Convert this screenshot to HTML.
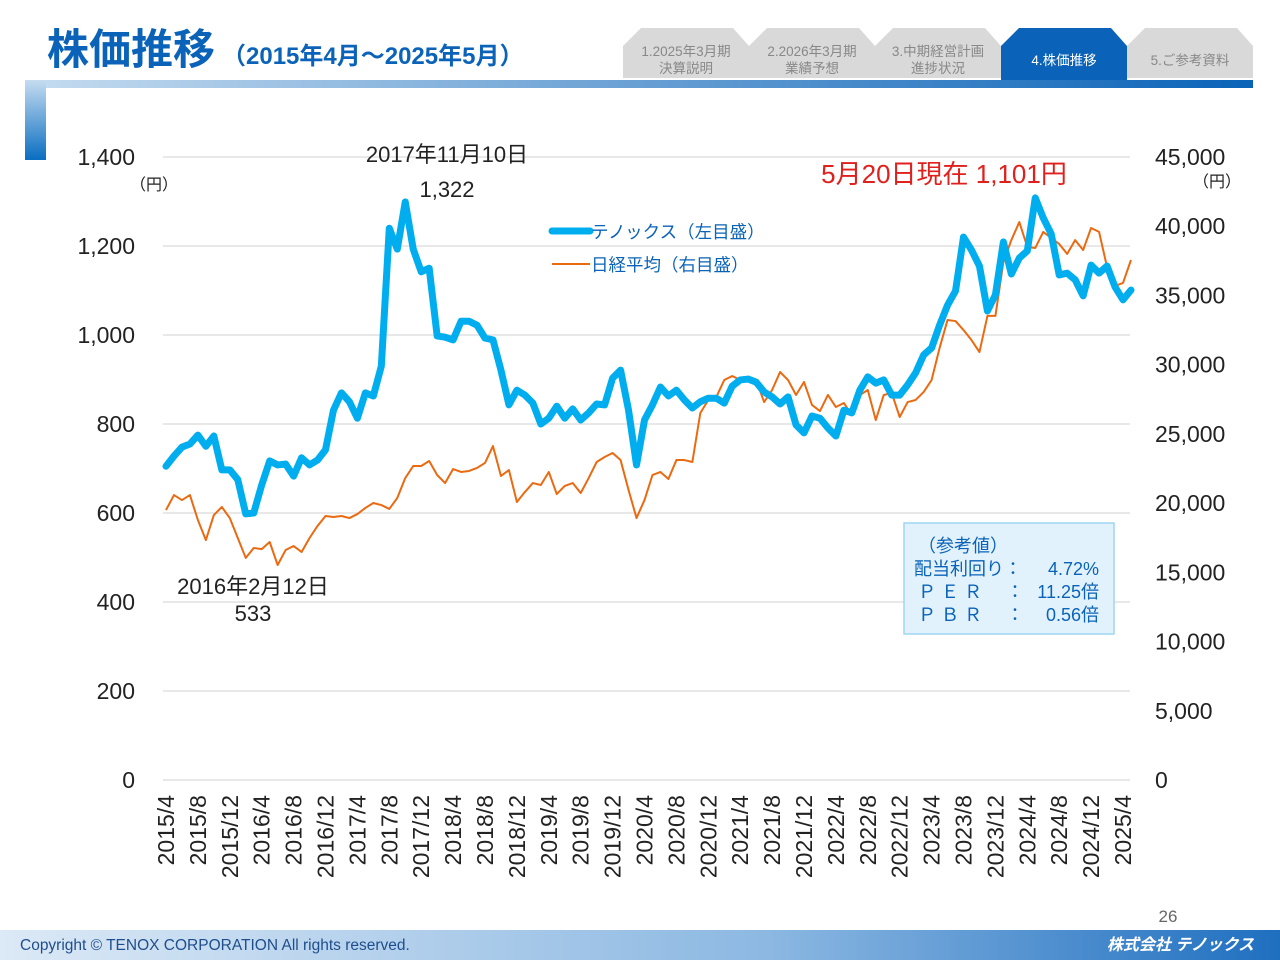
<!DOCTYPE html>
<html><head><meta charset="utf-8">
<style>
body{margin:0;width:1280px;height:960px;background:#fff;overflow:hidden;font-family:"Liberation Sans","Noto Sans CJK JP",sans-serif;}
svg{display:block}
</style></head>
<body>
<svg width="1280" height="960" viewBox="0 0 1280 960" id="chart" font-family="Liberation Sans, Noto Sans CJK JP, sans-serif">
<defs>
<linearGradient id="bar" x1="0" x2="1"><stop offset="0" stop-color="#c6dcf0"/><stop offset="1" stop-color="#0a63b8"/></linearGradient>
<linearGradient id="vbar" x1="0" x2="0" y1="0" y2="1"><stop offset="0" stop-color="#c6dcf0"/><stop offset="1" stop-color="#0a6ec2"/></linearGradient>
<linearGradient id="foot" x1="0" x2="1"><stop offset="0" stop-color="#dce9f6"/><stop offset="0.6" stop-color="#8cb8e2"/><stop offset="1" stop-color="#1f6fc0"/></linearGradient>
</defs>
<g>
<text x="47" y="64" font-size="42" font-weight="bold" fill="#0a63b8">株価推移</text>
<text x="222" y="64" font-size="24" font-weight="bold" fill="#0a63b8">（2015年4月～2025年5月）</text>
<rect x="25" y="80" width="1228" height="8" fill="url(#bar)"/>
<rect x="25" y="80" width="21" height="80" fill="url(#vbar)"/>
</g>
<g font-size="13.5" text-anchor="middle">
<g><path d="M623,78 L623,46 L641,28 L733,28 L749,46 L749,78Z" fill="#d9d9d9"/><text x="686" y="56" fill="#888">1.2025年3月期</text><text x="686" y="73" fill="#888">決算説明</text></g>
<g><path d="M749,78 L749,46 L767,28 L859,28 L875,46 L875,78Z" fill="#d9d9d9"/><text x="812" y="56" fill="#888">2.2026年3月期</text><text x="812" y="73" fill="#888">業績予想</text></g>
<g><path d="M875,78 L875,46 L893,28 L985,28 L1001,46 L1001,78Z" fill="#d9d9d9"/><text x="938" y="56" fill="#888">3.中期経営計画</text><text x="938" y="73" fill="#888">進捗状況</text></g>
<g><path d="M1001,80 L1001,46 L1019,28 L1111,28 L1127,46 L1127,80Z" fill="#0a63b8"/><text x="1064" y="65" fill="#fff">4.株価推移</text></g>
<g><path d="M1127,78 L1127,46 L1145,28 L1237,28 L1253,46 L1253,78Z" fill="#d9d9d9"/><text x="1190" y="65" fill="#888">5.ご参考資料</text></g>
</g>
<g id="grid"></g>
<g id="axes"></g>
<g id="series"></g>
<g font-size="22" fill="#222">
<text x="130" y="190" font-size="16">（円）</text>
<text x="1193" y="187" font-size="16">（円）</text>
<text x="447" y="162" text-anchor="middle">2017年11月10日</text>
<text x="447" y="197" text-anchor="middle">1,322</text>
<text x="253" y="594" text-anchor="middle">2016年2月12日</text>
<text x="253" y="621" text-anchor="middle">533</text>
<text x="944" y="183" text-anchor="middle" font-size="26" fill="#e0201c">5月20日現在 1,101円</text>
</g>
<g font-size="17.5">
<g><line x1="552" y1="231" x2="590" y2="231" stroke="#00aeef" stroke-width="7" stroke-linecap="round"/><text x="591" y="238" fill="#0a63b8">テノックス（左目盛）</text></g>
<g><line x1="552" y1="264" x2="590" y2="264" stroke="#ea6a12" stroke-width="2"/><text x="591" y="271" fill="#0a63b8">日経平均（右目盛）</text></g>
</g>
<g font-size="18" fill="#0a63b8">
<rect x="904" y="523" width="210" height="111" fill="#e2f2fc" stroke="#9fd5f3" stroke-width="1.5"/>
<text x="918" y="552">（参考値）</text>
<text x="914" y="575">配当利回り：</text><text x="1099" y="575" text-anchor="end">4.72%</text>
<text x="918" y="598">Ｐ Ｅ Ｒ</text><text x="1006" y="598">：</text><text x="1099" y="598" text-anchor="end">11.25倍</text>
<text x="918" y="621">Ｐ Ｂ Ｒ</text><text x="1006" y="621">：</text><text x="1099" y="621" text-anchor="end">0.56倍</text>
</g>
<text x="1168" y="922" font-size="17" fill="#666" text-anchor="middle">26</text>
<g>
<rect x="0" y="930" width="1280" height="30" fill="url(#foot)"/>
<text x="20" y="950" font-size="15.5" fill="#1f4e8c">Copyright © TENOX CORPORATION All rights reserved.</text>
<text x="1254" y="950" font-size="16" font-weight="bold" font-style="italic" fill="#fff" text-anchor="end">株式会社 テノックス</text>
</g>
</svg>
<script>
const tenox=[705,728,748,755,775,750,773,697,697,675,598,600,663,717,708,710,683,724,708,719,742,831,870,850,813,870,863,930,1240,1193,1299,1193,1142,1150,998,995,989,1031,1031,1022,993,989,921,843,876,865,847,800,813,840,813,834,809,825,845,843,903,921,831,708,809,843,883,863,876,854,836,850,858,858,847,885,899,901,894,872,861,845,861,798,780,818,813,791,773,831,825,876,906,892,899,865,865,888,915,955,971,1022,1067,1099,1220,1191,1155,1054,1090,1209,1137,1173,1189,1308,1263,1227,1135,1139,1124,1088,1157,1139,1155,1108,1079,1101];
const nikkei=[19500,20580,20220,20580,18780,17330,19140,19720,18920,17480,16040,16760,16680,17190,15530,16610,16900,16470,17480,18350,19070,19000,19070,18920,19210,19650,20010,19860,19580,20370,21810,22680,22680,23040,22030,21450,22460,22250,22320,22540,22900,24120,21960,22390,20080,20800,21450,21310,22250,20650,21240,21450,20730,21810,22970,23330,23620,23110,20950,18920,20220,22030,22250,21740,23110,23110,22970,26510,27450,27660,28890,29180,28890,28890,28890,27300,28170,29470,28890,27810,28750,27090,26650,27810,26940,27230,26360,27810,28170,26000,27810,27950,26220,27300,27450,28020,28890,31200,33230,33150,32500,31780,30910,33520,33520,37410,39000,40300,38500,38430,39590,39150,38720,38000,39000,38280,39870,39590,37050,35680,35900,37560];
const leftTicks=[0,200,400,600,800,1000,1200,1400];
const rightTicks=[0,5000,10000,15000,20000,25000,30000,35000,40000,45000];
const xLabels=["2015/4","2015/8","2015/12","2016/4","2016/8","2016/12","2017/4","2017/8","2017/12","2018/4","2018/8","2018/12","2019/4","2019/8","2019/12","2020/4","2020/8","2020/12","2021/4","2021/8","2021/12","2022/4","2022/8","2022/12","2023/4","2023/8","2023/12","2024/4","2024/8","2024/12","2025/4"];
const NS="http://www.w3.org/2000/svg";
const y0=780,yTop=157,x0=166,dx=7.975;
const yL=v=>y0-(v/1400)*(y0-yTop);
const yR=v=>y0-(v/45000)*(y0-yTop);
const xM=i=>x0+i*dx;
function mk(t,a,p){const e=document.createElementNS(NS,t);for(const k in a)e.setAttribute(k,a[k]);p.appendChild(e);return e;}
const grid=document.getElementById('grid'),axes=document.getElementById('axes'),ser=document.getElementById('series');
leftTicks.forEach(v=>{
 const l=mk('line',{x1:163,x2:1130,y1:yL(v),y2:yL(v),stroke:'#d9d9d9','stroke-width':1.2},grid);
 
 
 const t=mk('text',{x:135,y:yL(v)+8,'text-anchor':'end','font-size':23,fill:'#222'},axes);
 t.textContent=v.toLocaleString('en-US');
 
 
});
rightTicks.forEach(v=>{
 const t=mk('text',{x:1155,y:yR(v)+8,'font-size':23,fill:'#222'},axes);
 t.textContent=v.toLocaleString('en-US');
 
 
});
xLabels.forEach((s,i)=>{
 const x=xM(i*4)+8;
 const t=mk('text',{x:x,y:795,'text-anchor':'end','font-size':23,fill:'#222',transform:`rotate(-90 ${x} 795)`},axes);
 t.textContent=s;
 
 
});
const pn=mk('polyline',{points:nikkei.map((v,i)=>xM(i)+','+yR(v)).join(' '),fill:'none',stroke:'#ea6a12','stroke-width':2,'stroke-linejoin':'round'},ser);


const pt=mk('polyline',{points:tenox.map((v,i)=>xM(i)+','+yL(v)).join(' '),fill:'none',stroke:'#00aeef','stroke-width':7,'stroke-linejoin':'round','stroke-linecap':'round'},ser);


</script>
</body></html>
